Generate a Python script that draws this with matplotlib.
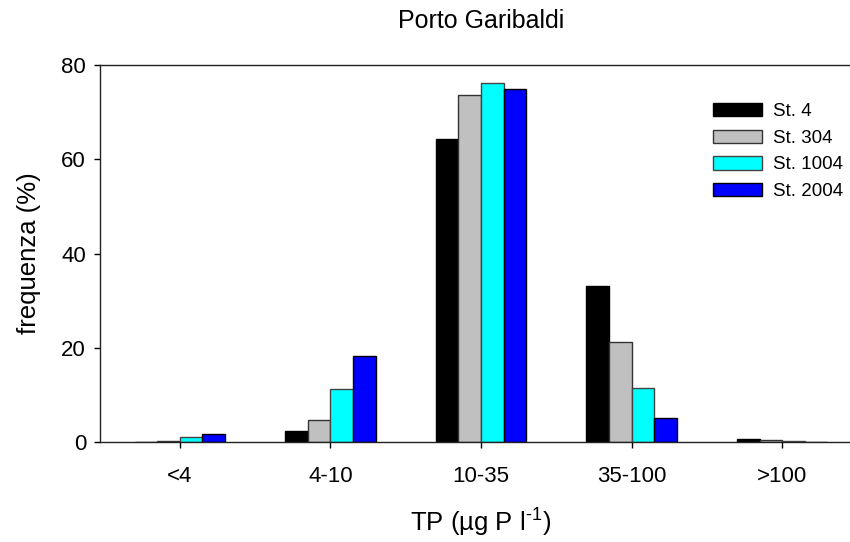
import matplotlib.pyplot as plt
import numpy as np

categories = ['<4', '4-10', '10-35', '35-100', '>100']
stations = ['St. 4', 'St. 304', 'St. 1004', 'St. 2004']
st4 = [0.1, 2.3, 64.3, 33.0, 0.6]
st304 = [0.3, 4.7, 73.7, 21.2, 0.5]
st1004 = [1.0, 11.3, 76.2, 11.4, 0.2]
st2004 = [1.7, 18.3, 75.0, 5.0, 0.0]

series = [st4, st304, st1004, st2004]
colors = ['#000000', '#c0c0c0', '#00ffff', '#0000ff']
edges = ['#000000', '#333333', '#444444', '#000000']

plt.rcParams['font.family'] = ['Arial', 'Liberation Sans', 'DejaVu Sans']
plt.rcParams['mathtext.fontset'] = 'custom'
plt.rcParams['mathtext.rm'] = 'Liberation Sans'

fig = plt.figure(figsize=(8.5, 5.42), dpi=100)
ax = fig.add_axes([100 / 850, 1 - 442 / 542, 762 / 850, 377 / 542])

x = np.arange(len(categories))
w = 0.15
for i, vals in enumerate(series):
    ax.bar(x + (i - 1.5) * w, vals, width=w, color=colors[i],
           edgecolor=edges[i], linewidth=1, label=stations[i])

ax.set_xlim(-0.53, 4.53)
ax.set_ylim(0, 80)
ax.set_yticks([0, 20, 40, 60, 80])
ax.set_xticks(x)
ax.set_xticklabels(categories)
ax.tick_params(direction='out', labelsize=16, length=4, width=1, pad=6)
ax.tick_params(axis='x', pad=13)
ax.spines['right'].set_visible(False)
for s in ['left', 'bottom', 'top']:
    ax.spines[s].set_linewidth(1)
    ax.spines[s].set_color('#222222')

ax.set_xlabel('TP (µg P l$^{\u20101}$)', fontsize=18.5, labelpad=13)
ax.set_ylabel('frequenza (%)', fontsize=18.5, labelpad=15)
ax.set_title('Porto Garibaldi', fontsize=18, pad=27)

fig.legend(loc='upper left', bbox_to_anchor=(713 / 850, 1 - 103 / 542),
           frameon=False, fontsize=13.5, handlelength=2.6, handleheight=0.72,
           labelspacing=0.5, handletextpad=0.6, borderpad=0, borderaxespad=0)

fig.savefig('out.png', dpi=100)
